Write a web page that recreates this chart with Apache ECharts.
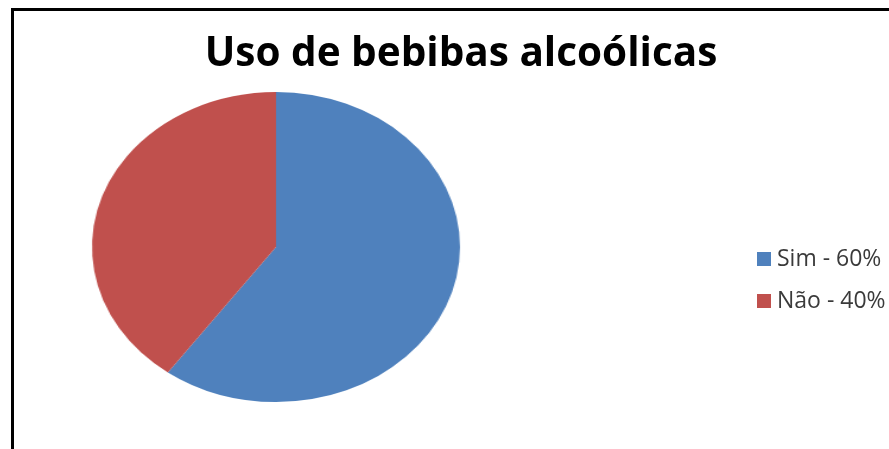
<!DOCTYPE html>
<html>
<head>
<meta charset="utf-8">
<script src="https://cdn.jsdelivr.net/npm/echarts@6/dist/echarts.min.js"></script>
<style>
  html, body { margin: 0; padding: 0; background: #fff; overflow: hidden; }
  #wrap { position: relative; width: 889px; height: 449px; overflow: hidden; background: #fff; }
  #frame { position: absolute; left: 11px; top: 8px; width: 1000px; height: 600px;
           border-left: 3px solid #000; border-top: 3px solid #000; box-sizing: border-box; }
  #pie { position: absolute; left: 0; top: 0; width: 889px; height: 449px;
         transform-origin: 276px 247px; }
  #text { position: absolute; left: 0; top: 0; width: 889px; height: 449px; }
</style>
</head>
<body>
<div id="wrap">
  <div id="frame"></div>
  <div id="pie"></div>
  <div id="text"></div>
</div>
<script>
const titleText = 'Uso de bebibas alcoólicas';
const categories = ['Sim - 60%', 'Não - 40%'];
const values = [60, 40];
const colors = ['#4F81BD', '#C0504D'];

// Pie centre and the ellipse radii it is stretched to
const cx = 276, cy = 247, rx = 184, ry = 155;

const pieData = categories.map((name, i) => ({
  name, value: values[i], itemStyle: { color: colors[i] }
}));

// The pie is drawn round and widened horizontally into an ellipse
const pieEl = document.getElementById('pie');
pieEl.style.transform = 'scaleX(' + (rx / ry) + ')';
const pieChart = echarts.init(pieEl, null, { renderer: 'canvas' });
pieChart.setOption({
  animation: false,
  series: [{
    type: 'pie',
    center: [cx, cy],
    radius: [0, ry],
    startAngle: 90,
    clockwise: true,
    label: { show: false },
    labelLine: { show: false },
    itemStyle: { borderWidth: 0 },
    emphasis: { disabled: true },
    data: pieData
  }]
});

// Title and legend, kept unstretched; the zero-size pie only feeds the legend
const textChart = echarts.init(document.getElementById('text'), null, { renderer: 'canvas' });
textChart.setOption({
  animation: false,
  title: {
    text: titleText,
    left: 456,
    textAlign: 'center',
    top: 29,
    textStyle: { fontFamily: 'Open Sans', fontWeight: 'bold', fontSize: 40.5, color: '#000' }
  },
  legend: {
    orient: 'vertical',
    left: 757,
    top: 245,
    padding: 0,
    itemWidth: 14,
    itemHeight: 14,
    itemGap: 14,
    icon: 'rect',
    itemStyle: { opacity: 1 },
    data: categories,
    textStyle: { fontFamily: 'Open Sans', fontSize: 23, lineHeight: 28, color: '#3a3a3a', padding: [0, 0, 0, 1] },
    selectedMode: false
  },
  series: [{
    type: 'pie',
    center: [cx, cy],
    radius: [0, 0],
    silent: true,
    label: { show: false },
    labelLine: { show: false },
    data: pieData
  }]
});
</script>
</body>
</html>
